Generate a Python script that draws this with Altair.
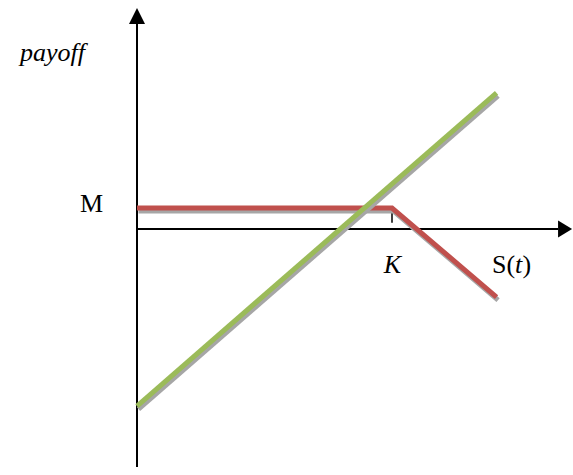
import altair as alt
import pandas as pd

# Payoff legs against the underlying price S(t)
strike = 10.0
cap_level = 1.0
red_s = [0.0, 10.0, 14.1]
red_payoff = [1.0, 1.0, -3.24]
green_s = [0.0, 14.1]
green_payoff = [-8.43, 6.48]

# Hand-drawn axes (extent of the arrow shafts and arrowheads)
x_axis_end = 16.51
y_axis_bottom = -11.33
y_axis_top = 9.76
up_arrow = (0.0, 10.14)
right_arrow = (16.73, 0.0)
tick_bottom = 0.3

# Text labels: (text, x, y)
plain_labels = [("M", -2.235, 0.81), ("S(", 13.92, -2.095), (")", 15.12, -2.095)]
italic_labels = [("payoff", -4.59, 8.0), ("K", 9.68, -2.1), ("t", 14.82, -2.095)]

W, H = 573, 475
xs = alt.Scale(domain=[-137 / 25.5, 436 / 25.5], nice=False, zero=False)
ys = alt.Scale(domain=[-246 / 21, 229 / 21], nice=False, zero=False)

RED = "#C0504D"
GREEN = "#9BBB59"
SHADOW = "#A6A6A6"

red_df = pd.DataFrame({"s": red_s, "payoff": red_payoff, "i": range(len(red_s))})
green_df = pd.DataFrame({"s": green_s, "payoff": green_payoff, "i": range(len(green_s))})


def leg(df, color, dx=0, dy=0):
    return alt.Chart(df).mark_line(
        color=color, strokeWidth=5, strokeCap="butt", strokeJoin="miter",
        xOffset=dx, yOffset=dy
    ).encode(
        x=alt.X("s:Q", scale=xs, axis=None),
        y=alt.Y("payoff:Q", scale=ys, axis=None),
        order="i:O",
    )


axes_df = pd.DataFrame({
    "x": [0.0, 0.0, strike],
    "x2": [0.0, x_axis_end, strike],
    "y": [y_axis_bottom, 0.0, cap_level],
    "y2": [y_axis_top, 0.0, tick_bottom],
    "w": [2.0, 2.0, 1.5],
})
axes = alt.Chart(axes_df).mark_rule(color="black").encode(
    x=alt.X("x:Q", scale=xs, axis=None),
    x2="x2:Q",
    y=alt.Y("y:Q", scale=ys, axis=None),
    y2="y2:Q",
    strokeWidth=alt.StrokeWidth("w:Q", scale=None, legend=None),
)

up_df = pd.DataFrame({"x": [up_arrow[0]], "y": [up_arrow[1]]})
right_df = pd.DataFrame({"x": [right_arrow[0]], "y": [right_arrow[1]]})


def head(df, path, size):
    return alt.Chart(df).mark_point(
        shape=path, size=size, filled=True, color="black", opacity=1, strokeWidth=0
    ).encode(
        x=alt.X("x:Q", scale=xs, axis=None),
        y=alt.Y("y:Q", scale=ys, axis=None),
    )


heads = head(up_df, "M0,-1L1,1L-1,1Z", 256) + head(right_df, "M1,0L-0.65,1L-0.65,-1Z", 289)


def labels(items, style):
    df = pd.DataFrame(items, columns=["text", "x", "y"])
    return alt.Chart(df).mark_text(
        font="Liberation Serif", fontSize=26, fontStyle=style,
        align="left", baseline="alphabetic", color="black"
    ).encode(
        x=alt.X("x:Q", scale=xs, axis=None),
        y=alt.Y("y:Q", scale=ys, axis=None),
        text="text:N",
    )


chart = alt.layer(
    axes,
    heads,
    leg(red_df, SHADOW, 1.5, 3),
    leg(red_df, RED),
    leg(green_df, SHADOW, 1.5, 3),
    leg(green_df, GREEN),
    labels(plain_labels, "normal"),
    labels(italic_labels, "italic"),
).properties(
    width=W, height=H, autosize=alt.AutoSizeParams(type="none"), padding=0
).configure_view(stroke=None)

chart.save("out.html", embed_options={"renderer": "svg", "actions": False})
